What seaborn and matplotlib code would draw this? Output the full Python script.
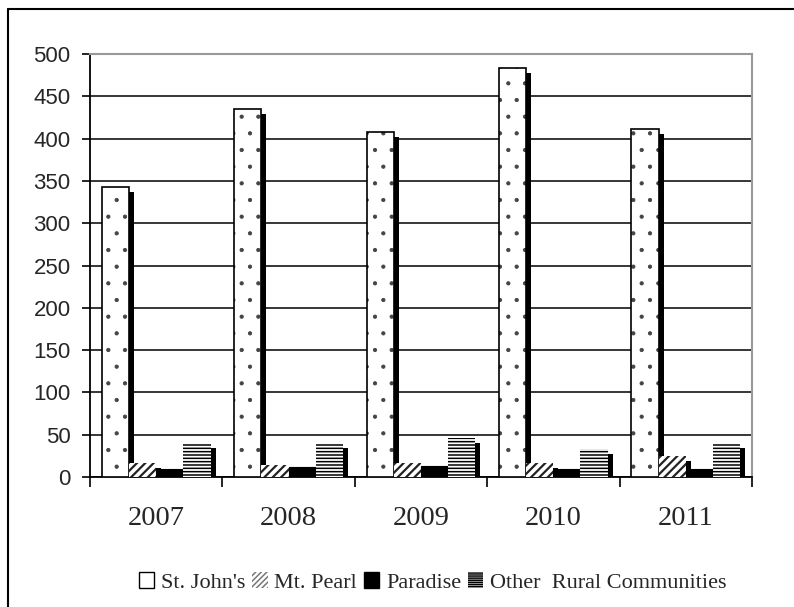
import numpy as np
import pandas as pd
import matplotlib
matplotlib.use('Agg')
import matplotlib.pyplot as plt
from matplotlib.patches import Patch, Rectangle
from matplotlib.lines import Line2D
from matplotlib.transforms import offset_copy
import seaborn as sns

years = ['2007', '2008', '2009', '2010', '2011']
areas = ["St. John's", 'Mt. Pearl', 'Paradise', 'Other  Rural Communities']
st_johns = [343, 435, 408, 484, 411]
mt_pearl = [16, 14, 17, 16, 25]
paradise = [10, 12, 13, 10, 9]
other_rural = [40, 40, 46, 33, 40]

y_ticks = [0, 50, 100, 150, 200, 250, 300, 350, 400, 450, 500]


def main():
    sns.set_theme(style='white')
    plt.rcParams['font.family'] = ['Liberation Serif', 'DejaVu Serif']
    plt.rcParams['hatch.color'] = 'black'
    plt.rcParams['hatch.linewidth'] = 1.1

    data = pd.DataFrame({
        'year': years * 4,
        'area': np.repeat(areas, len(years)),
        'value': st_johns + mt_pearl + paradise + other_rural,
    })

    fig = plt.figure(figsize=(7.94, 6.07), dpi=100)
    ax = fig.add_axes([0.1134, 0.2142, 0.8336, 0.6968])

    ax = sns.barplot(data=data, x='year', y='value', hue='area', order=years,
                     hue_order=areas, palette=['white', 'white', 'black', 'white'],
                     width=0.82, saturation=1, legend=False, ax=ax)

    # drop shadow: same bar, moved 5 px right and 5 px down
    shadow_tr = offset_copy(ax.transData, fig=fig, x=5, y=-5, units='dots')

    # pattern, edge colour, edge width, hatch width for each series
    styles = [('.', 'black', 1.2, 0.6), ('////', '#222222', 0, 1.6),
              (None, 'black', 0.8, 1.0), ('-----', 'black', 0, 1.1)]
    for i, cont in enumerate(ax.containers):
        hatch, ec, lw, hlw = styles[i]
        for p in cont.patches:
            p.set_hatch(hatch)
            p.set_edgecolor(ec)
            p.set_linewidth(lw)
            p.set_zorder(3 + 2 * i)
            p._hatch_linewidth = hlw
            if i == 0:
                p._hatch_color = matplotlib.colors.to_rgba('#444444')
            sh = Rectangle(p.get_xy(), p.get_width(), p.get_height(),
                           transform=shadow_tr, facecolor='black',
                           edgecolor='none', zorder=2 + 2 * i)
            ax.add_patch(sh)

    ax.set_xlim(-0.5, 4.5)
    ax.set_ylim(0, 500)
    ax.set_yticks(y_ticks)
    ax.set_xlabel('')
    ax.set_ylabel('')

    ax.set_axisbelow(True)
    ax.yaxis.grid(True, color='black', linewidth=1.1)
    ax.xaxis.grid(False)

    for side in ['left', 'bottom']:
        ax.spines[side].set_color('black')
        ax.spines[side].set_linewidth(1.3)
    for side in ['top', 'right']:
        ax.spines[side].set_color('#999999')
        ax.spines[side].set_linewidth(1.5)

    ax.set_xticks(np.arange(-0.5, 5, 1), minor=True)
    ax.tick_params(axis='x', which='major', length=0, pad=21, labelsize=20.5)
    ax.tick_params(axis='x', which='minor', direction='out', length=7,
                   width=1.2, color='black', bottom=True)
    ax.tick_params(axis='y', direction='out', length=6, width=1.2,
                   color='black', left=True, pad=8)
    for lab in ax.get_yticklabels():
        lab.set_fontfamily(['Liberation Sans', 'DejaVu Sans'])
        lab.set_fontsize(16)

    handles = [Patch(facecolor='white', edgecolor='black', hatch=None, linewidth=1),
               Patch(facecolor='white', edgecolor='#777777', hatch='//////', linewidth=0),
               Patch(facecolor='black', edgecolor='black'),
               Patch(facecolor='white', edgecolor='black', hatch='--------', linewidth=0)]
    fig.legend(handles, areas, loc='center', bbox_to_anchor=(0.545, 0.04), ncol=4,
               frameon=False, fontsize=16, handlelength=0.7, handleheight=0.7,
               handletextpad=0.3, columnspacing=0.3, borderpad=0)

    # outer frame around the chart (left and top edges)
    fig.add_artist(Line2D([8 / 794, 8 / 794], [0, 1 - 9 / 607], color='black', linewidth=1.5))
    fig.add_artist(Line2D([8 / 794, 1], [1 - 9 / 607, 1 - 9 / 607], color='black', linewidth=1.5))

    fig.savefig('out.png', dpi=100)
    plt.close(fig)


if __name__ == '__main__':
    main()
